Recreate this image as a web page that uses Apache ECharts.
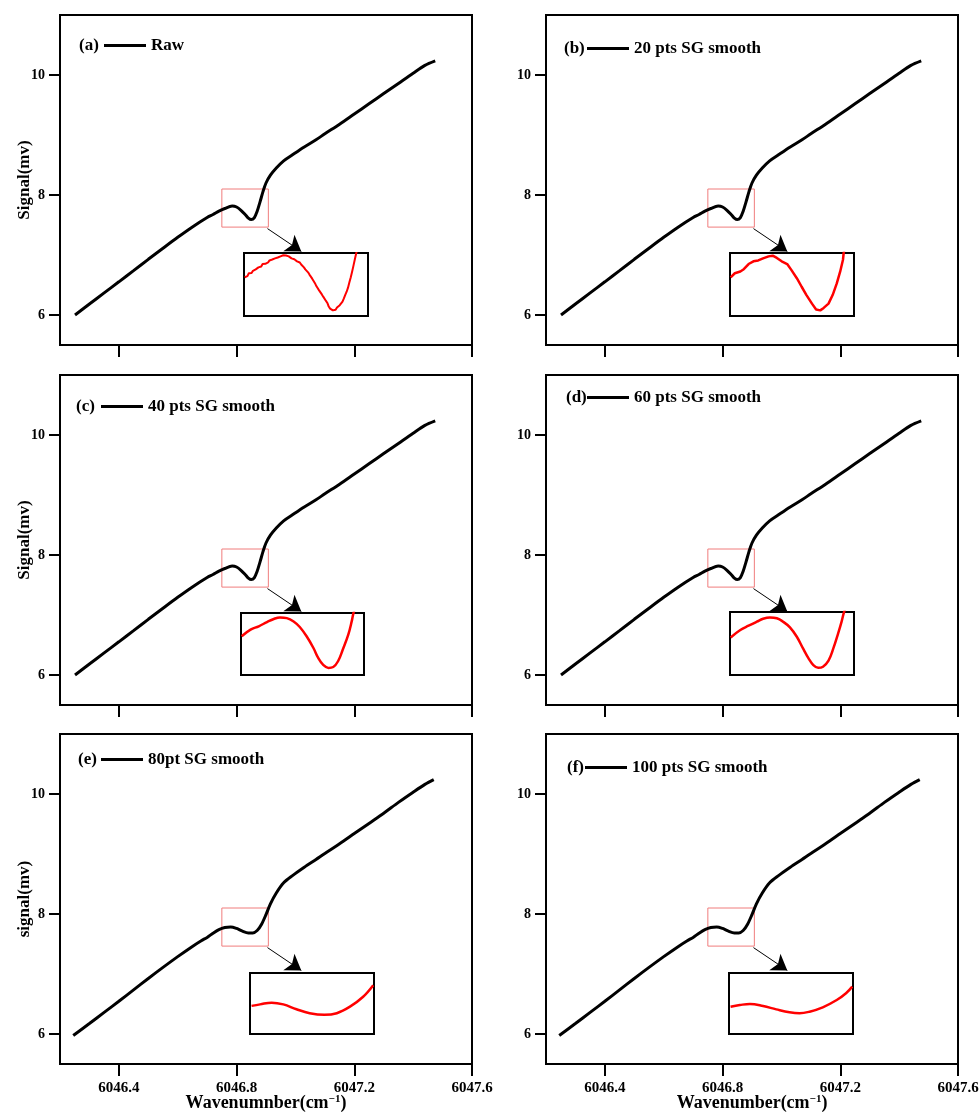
<!DOCTYPE html>
<html><head><meta charset="utf-8">
<script src="https://cdn.jsdelivr.net/npm/echarts@6/dist/echarts.min.js"></script>
<style>html,body{margin:0;padding:0;background:#fff}#c{width:979px;height:1113px}</style>
</head><body><div id="c"></div>
<script>
// ---------- data ----------
const xTicks = [6046.4, 6046.8, 6047.2, 6047.6];
const yTicks = [6, 8, 10];
const panelTags = ['(a)', '(b)', '(c)', '(d)', '(e)', '(f)'];
const seriesNames = ['Raw', '20 pts SG smooth', '40 pts SG smooth', '60 pts SG smooth', '80pt SG smooth', '100 pts SG smooth'];
const yNames = ['Signal(mv)', '', 'Signal(mv)', '', 'signal(mv)', ''];
const xNames = ['', '', '', '', 'Wavenumnber(cm{sup|−1})', 'Wavenumber(cm{sup|−1})'];

const mainSharp = [[6046.251,6.00],[6046.30,6.183],[6046.35,6.368],[6046.40,6.553],[6046.45,6.740],[6046.50,6.928],[6046.55,7.113],[6046.60,7.295],[6046.65,7.468],[6046.70,7.625],[6046.72,7.675],[6046.74,7.730],[6046.76,7.775],[6046.785,7.815],[6046.80,7.80],[6046.815,7.745],[6046.83,7.67],[6046.84,7.615],[6046.85,7.59],[6046.86,7.62],[6046.87,7.73],[6046.88,7.89],[6046.89,8.06],[6046.90,8.20],[6046.915,8.33],[6046.935,8.45],[6046.96,8.57],[6046.99,8.67],[6047.03,8.80],[6047.07,8.92],[6047.10,9.02],[6047.15,9.18],[6047.20,9.35],[6047.25,9.52],[6047.30,9.69],[6047.35,9.86],[6047.40,10.03],[6047.44,10.16],[6047.475,10.235]];

const mainFlat = [[6046.245,5.975],[6046.30,6.175],[6046.35,6.36],[6046.40,6.545],[6046.45,6.735],[6046.50,6.925],[6046.55,7.11],[6046.60,7.29],[6046.65,7.46],[6046.68,7.555],[6046.70,7.61],[6046.72,7.68],[6046.74,7.74],[6046.76,7.775],[6046.78,7.785],[6046.80,7.76],[6046.82,7.715],[6046.84,7.685],[6046.855,7.685],[6046.87,7.725],[6046.885,7.83],[6046.90,7.99],[6046.915,8.17],[6046.935,8.35],[6046.96,8.52],[6046.99,8.64],[6047.03,8.78],[6047.07,8.91],[6047.10,9.01],[6047.15,9.17],[6047.20,9.34],[6047.25,9.51],[6047.30,9.68],[6047.35,9.86],[6047.40,10.03],[6047.44,10.16],[6047.47,10.24]];

const insetA = [[6046.731,7.722],[6046.733,7.730],[6046.735,7.727],[6046.737,7.740],[6046.739,7.744],[6046.741,7.741],[6046.743,7.751],[6046.745,7.748],[6046.747,7.757],[6046.749,7.754],[6046.751,7.766],[6046.753,7.772],[6046.755,7.770],[6046.757,7.781],[6046.759,7.785],[6046.761,7.782],[6046.763,7.790],[6046.765,7.788],[6046.767,7.797],[6046.769,7.794],[6046.771,7.801],[6046.773,7.799],[6046.775,7.806],[6046.777,7.803],[6046.779,7.810],[6046.781,7.808],[6046.783,7.815],[6046.785,7.812],[6046.787,7.820],[6046.789,7.816],[6046.791,7.819],[6046.793,7.812],[6046.795,7.815],[6046.797,7.808],[6046.799,7.806],[6046.801,7.800],[6046.803,7.802],[6046.805,7.795],[6046.807,7.793],[6046.809,7.787],[6046.811,7.788],[6046.813,7.779],[6046.815,7.772],[6046.817,7.766],[6046.819,7.757],[6046.821,7.750],[6046.823,7.744],[6046.825,7.734],[6046.827,7.727],[6046.829,7.716],[6046.831,7.708],[6046.833,7.696],[6046.835,7.683],[6046.837,7.676],[6046.839,7.664],[6046.841,7.655],[6046.843,7.646],[6046.845,7.636],[6046.847,7.628],[6046.849,7.617],[6046.851,7.608],[6046.853,7.592],[6046.855,7.583],[6046.857,7.578],[6046.859,7.575],[6046.861,7.580],[6046.863,7.578],[6046.865,7.588],[6046.867,7.592],[6046.869,7.598],[6046.871,7.606],[6046.873,7.614],[6046.875,7.628],[6046.877,7.644],[6046.879,7.658],[6046.881,7.676],[6046.883,7.700],[6046.885,7.722],[6046.887,7.748],[6046.889,7.775],[6046.891,7.803],[6046.893,7.830],[6046.895,7.850]];

const insetB = [[6046.731,7.722],[6046.737,7.740],[6046.745,7.748],[6046.750,7.758],[6046.757,7.781],[6046.764,7.793],[6046.771,7.797],[6046.778,7.806],[6046.786,7.815],[6046.792,7.818],[6046.798,7.808],[6046.805,7.793],[6046.813,7.781],[6046.819,7.755],[6046.827,7.718],[6046.834,7.680],[6046.841,7.643],[6046.849,7.605],[6046.855,7.579],[6046.861,7.575],[6046.866,7.586],[6046.873,7.605],[6046.879,7.643],[6046.885,7.695],[6046.890,7.748],[6046.894,7.800],[6046.895,7.830],[6046.896,7.845]];

const insetC = [[6046.731,7.725],[6046.744,7.755],[6046.756,7.770],[6046.768,7.789],[6046.778,7.803],[6046.787,7.810],[6046.797,7.807],[6046.807,7.792],[6046.816,7.767],[6046.826,7.725],[6046.836,7.672],[6046.843,7.627],[6046.850,7.597],[6046.858,7.582],[6046.865,7.586],[6046.872,7.612],[6046.879,7.665],[6046.887,7.732],[6046.892,7.792],[6046.894,7.822],[6046.896,7.845]];

const insetD = [[6046.731,7.717],[6046.745,7.750],[6046.757,7.769],[6046.769,7.787],[6046.778,7.800],[6046.788,7.806],[6046.798,7.802],[6046.807,7.787],[6046.817,7.762],[6046.827,7.720],[6046.836,7.668],[6046.844,7.624],[6046.851,7.594],[6046.858,7.582],[6046.865,7.587],[6046.873,7.614],[6046.880,7.668],[6046.887,7.735],[6046.892,7.787],[6046.895,7.824],[6046.897,7.842]];

const insetE = [[6046.752,7.758],[6046.763,7.772],[6046.778,7.788],[6046.793,7.772],[6046.810,7.727],[6046.827,7.691],[6046.846,7.676],[6046.862,7.691],[6046.879,7.751],[6046.896,7.842],[6046.909,7.948]];

const insetF = [[6046.752,7.751],[6046.764,7.766],[6046.777,7.776],[6046.794,7.757],[6046.811,7.726],[6046.828,7.699],[6046.841,7.690],[6046.854,7.705],[6046.871,7.745],[6046.889,7.812],[6046.901,7.874],[6046.909,7.935]];

const zoomBox = [[6046.75, 7.465], [6046.908, 8.10]];
const arrowLine = [[6046.905, 7.44], [6047.02, 7.06]];
const insetRangeSharp = { x: [6046.73, 6046.91], y: [7.55, 7.83] };
const insetRangeFlat = { x: [6046.75, 6046.91], y: [7.50, 8.06] };

// ---------- layout ----------
const FONT = '"Liberation Serif","Times New Roman",serif';
const mainData = [mainSharp, mainSharp, mainSharp, mainSharp, mainFlat, mainFlat];
const insetData = [insetA, insetB, insetC, insetD, insetE, insetF];
const insetSmooth = [false, false, 0.4, 0.4, 0.4, 0.4];
const insetRanges = [insetRangeSharp, insetRangeSharp, insetRangeSharp, insetRangeSharp, insetRangeFlat, insetRangeFlat];
const mainPos = [[60, 15], [546, 15], [60, 375], [546, 375], [60, 734], [546, 734]];
const insetPos = [[244, 253, 124, 63], [730, 253, 124, 63], [241, 613, 123, 62], [730, 612, 124, 63], [250, 973, 124, 61], [729, 973, 124, 61]];
const legendPos = [[79, 104, 46], [564, 587, 49], [76, 101, 407], [566, 587, 398], [78, 101, 760], [567, 585, 768]];

const grids = [], xAxes = [], yAxes = [], series = [], legends = [], graphics = [];
const bold = { fontFamily: FONT, fontWeight: 'bold', color: '#000' };

for (let i = 0; i < 6; i++) {
  grids.push({ left: mainPos[i][0], top: mainPos[i][1], width: 412, height: 330, show: true, borderColor: '#000', borderWidth: 2, backgroundColor: 'transparent', outerBoundsMode: 'none', containLabel: false });
  xAxes.push({
    type: 'value', gridIndex: i, min: 6046.2, max: 6047.6,
    axisLine: { show: false }, splitLine: { show: false },
    axisTick: { show: true, length: 12, lineStyle: { width: 2, color: '#000' }, customValues: xTicks },
    axisLabel: { show: i >= 4, customValues: xTicks, formatter: v => v.toFixed(1), ...bold, fontSize: 15, margin: 17 },
    name: xNames[i], nameLocation: 'middle', nameGap: 30, nameMoveOverlap: false,
    nameTextStyle: { ...bold, fontSize: 18, lineHeight: 18, rich: { sup: { ...bold, fontSize: 11, lineHeight: 11, verticalAlign: 'top' } } }
  });
  yAxes.push({
    type: 'value', gridIndex: i, min: 5.5, max: 11,
    axisLine: { show: false }, splitLine: { show: false },
    axisTick: { show: true, length: 11, lineStyle: { width: 2, color: '#000' }, customValues: yTicks },
    axisLabel: { customValues: yTicks, ...bold, fontSize: 14, margin: 15 },
    name: yNames[i], nameLocation: 'middle', nameGap: 27, nameMoveOverlap: false,
    nameTextStyle: { ...bold, fontSize: 17 }
  });
  series.push({
    type: 'line', name: seriesNames[i], xAxisIndex: i, yAxisIndex: i, data: mainData[i],
    showSymbol: false, smooth: 0.3,
    lineStyle: { color: '#000', width: 3 }, itemStyle: { color: '#000' },
    markArea: { silent: true, itemStyle: { color: 'rgba(0,0,0,0)', borderColor: '#f07c7c', borderWidth: 1 },
      data: [[{ coord: zoomBox[0] }, { coord: zoomBox[1] }]] },
    markLine: { silent: true, symbol: ['none', 'arrow'], symbolSize: 15, label: { show: false },
      lineStyle: { color: '#000', width: 1, type: 'solid' },
      data: [[{ coord: arrowLine[0] }, { coord: arrowLine[1] }]] }
  });
  legends.push({
    left: legendPos[i][1], top: legendPos[i][2] - 9, padding: 0, itemWidth: 42, itemHeight: 3, icon: 'rect',
    selectedMode: false, data: [seriesNames[i]], textStyle: { ...bold, fontSize: 17 }
  });
  graphics.push({ type: 'text', x: legendPos[i][0], y: legendPos[i][2],
    style: { text: panelTags[i], fontFamily: FONT, fontWeight: 'bold', fontSize: 17, fill: '#000', verticalAlign: 'middle' } });
}
for (let i = 0; i < 6; i++) {
  const g = 6 + i, p = insetPos[i], r = insetRanges[i];
  grids.push({ left: p[0], top: p[1], width: p[2], height: p[3], show: true, borderColor: '#000', borderWidth: 2, backgroundColor: '#fff', z: 5, outerBoundsMode: 'none', containLabel: false });
  xAxes.push({ type: 'value', gridIndex: g, min: r.x[0], max: r.x[1], show: false });
  yAxes.push({ type: 'value', gridIndex: g, min: r.y[0], max: r.y[1], show: false });
  series.push({
    type: 'line', name: 'inset' + i, xAxisIndex: g, yAxisIndex: g, data: insetData[i],
    showSymbol: false, smooth: insetSmooth[i], clip: true, z: 6,
    lineStyle: { color: '#ff0000', width: i === 0 ? 2 : 2.5 }, itemStyle: { color: '#ff0000' }
  });
}

const chart = echarts.init(document.getElementById('c'), null, { renderer: 'canvas' });
chart.setOption({ animation: false, backgroundColor: '#fff', grid: grids, xAxis: xAxes, yAxis: yAxes, series, legend: legends, graphic: graphics });
</script></body></html>
